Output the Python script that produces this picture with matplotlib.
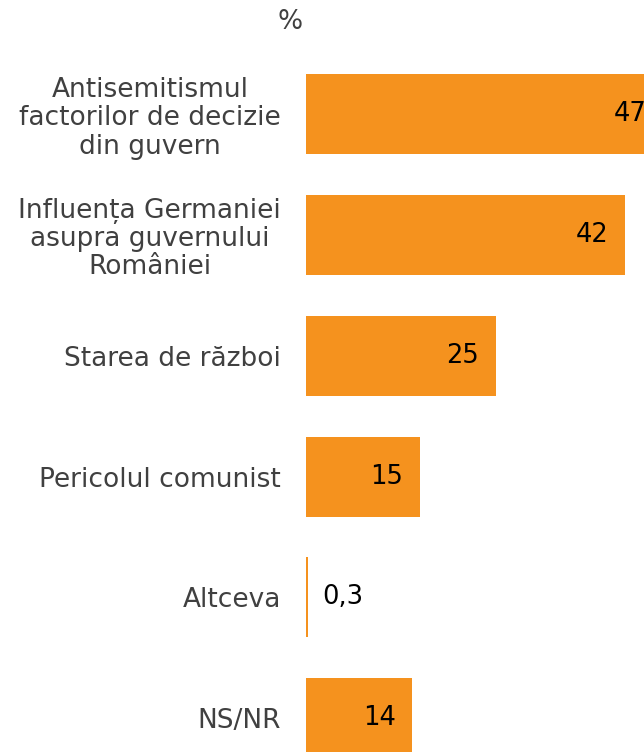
import matplotlib
matplotlib.use("Agg")
import matplotlib.pyplot as plt

categories = [
    "Antisemitismul\nfactorilor de decizie\ndin guvern",
    "Influența Germaniei\nasupra guvernului\nRomâniei",
    "Starea de război",
    "Pericolul comunist",
    "Altceva",
    "NS/NR",
]
values = [47, 42, 25, 15, 0.3, 14]
value_labels = ["47", "42", "25", "15", "0,3", "14"]

bar_color = "#F5921E"
label_color = "#404040"

plt.rcParams["font.family"] = "DejaVu Sans"

fig = plt.figure(figsize=(6.44, 7.52), dpi=100)
ax = fig.add_axes([306 / 644, 0, 338 / 644, 1])

ypos = list(range(len(categories)))
ax.barh(ypos, values, height=0.662, color=bar_color, edgecolor="none")

ax.set_xlim(0, 44.5)
ax.set_ylim(5.28, -0.944)

ax.set_yticks(ypos)
ax.set_yticklabels(categories, fontsize=19, color=label_color, linespacing=1.12)
for t in ax.get_yticklabels():
    t.set_multialignment("center")
ax.tick_params(axis="y", length=0, pad=18)
ax.set_xticks([])
for s in ax.spines.values():
    s.set_visible(False)

for y, v, lab in zip(ypos, values, value_labels):
    if v < 5:
        ax.annotate(lab, xy=(v, y), xytext=(10, 0), textcoords="offset points",
                    ha="left", va="center", fontsize=18.5, color="black",
                    annotation_clip=False)
    else:
        ax.annotate(lab, xy=(v, y), xytext=(-12, 0), textcoords="offset points",
                    ha="right", va="center", fontsize=18.5, color="black",
                    annotation_clip=False)

fig.text(290 / 644, 1 - 22 / 752, "%", ha="center", va="center",
         fontsize=19, color=label_color)

fig.savefig("out.png", dpi=100)
